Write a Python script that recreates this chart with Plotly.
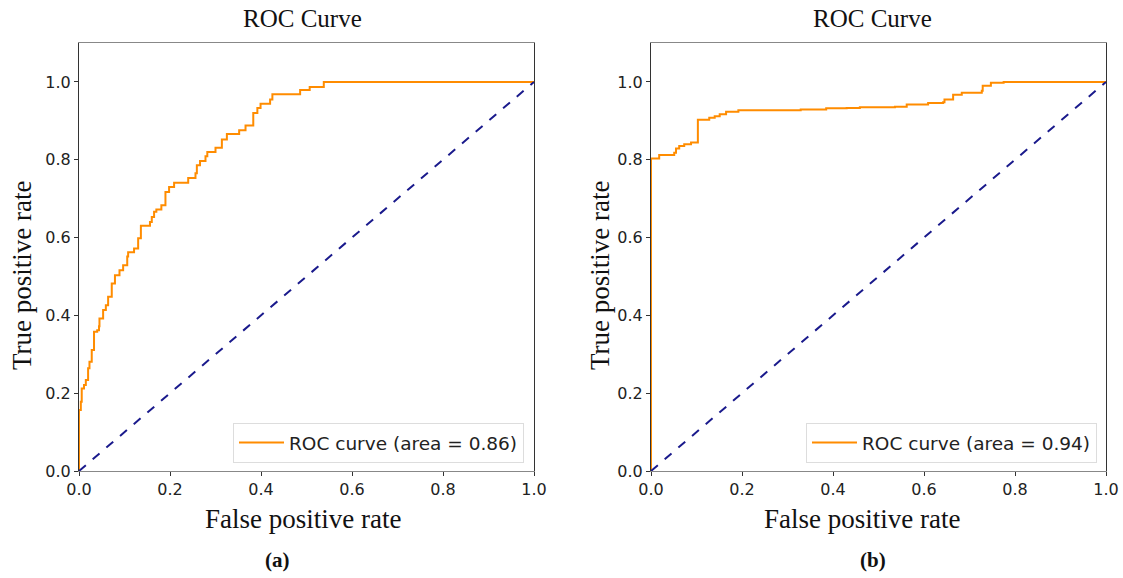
import plotly.graph_objects as go

# ---- data ----
fpr_a = [0.0, 0.0, 0.004, 0.006, 0.011, 0.015, 0.020, 0.023, 0.028, 0.033, 0.040, 0.044, 0.045,
         0.053, 0.059, 0.064, 0.072, 0.079, 0.089, 0.097, 0.106, 0.108, 0.121, 0.130, 0.136,
         0.156, 0.160, 0.165, 0.170, 0.181, 0.190, 0.198, 0.209, 0.240, 0.256, 0.259, 0.266,
         0.278, 0.282, 0.300, 0.314, 0.325, 0.352, 0.366, 0.383, 0.392, 0.399, 0.420, 0.425,
         0.486, 0.507, 0.538, 1.0]
tpr_a = [0.0, 0.157, 0.178, 0.212, 0.221, 0.234, 0.264, 0.281, 0.311, 0.358, 0.362, 0.372, 0.392,
         0.414, 0.426, 0.448, 0.482, 0.503, 0.516, 0.529, 0.551, 0.562, 0.572, 0.598, 0.630,
         0.640, 0.653, 0.666, 0.672, 0.683, 0.717, 0.730, 0.741, 0.753, 0.765, 0.786, 0.797,
         0.809, 0.820, 0.831, 0.852, 0.866, 0.876, 0.888, 0.920, 0.933, 0.944, 0.955, 0.968,
         0.979, 0.987, 1.0, 1.0]

fpr_b = [0.0, 0.0, 0.018, 0.051, 0.055, 0.062, 0.073, 0.088, 0.103, 0.128, 0.140, 0.151, 0.165,
         0.192, 0.329, 0.385, 0.430, 0.459, 0.536, 0.562, 0.609, 0.642, 0.645, 0.664, 0.683,
         0.727, 0.729, 0.747, 0.775, 1.0]
tpr_b = [0.0, 0.803, 0.812, 0.818, 0.829, 0.835, 0.840, 0.844, 0.903, 0.908, 0.912, 0.917, 0.923,
         0.927, 0.929, 0.932, 0.933, 0.935, 0.936, 0.942, 0.946, 0.948, 0.955, 0.967, 0.972,
         0.977, 0.990, 0.998, 1.0, 1.0]

diag = [0.0, 1.0]
label_a = "ROC curve (area = 0.86)"
label_b = "ROC curve (area = 0.94)"
tick_vals = [0.0, 0.2, 0.4, 0.6, 0.8, 1.0]
tick_text = ["0.0", "0.2", "0.4", "0.6", "0.8", "1.0"]

W, H = 1123, 578
L, R, T, B = 79, 1106, 43, 471   # plot-area box in pixels
PW, PH = R - L, B - T
def px(x):
    return (x - L) / PW
def py(y):
    return (B - y) / PH

ORANGE = "#ff8c00"
NAVY = "#1a1a8c"

fig = go.Figure()
fig.add_trace(go.Scatter(x=fpr_a, y=tpr_a, mode="lines", line=dict(color=ORANGE, width=2, shape="hv"),
                         name=label_a, xaxis="x", yaxis="y", legend="legend"))
fig.add_trace(go.Scatter(x=diag, y=diag, mode="lines", line=dict(color=NAVY, width=2, dash="dash"),
                         showlegend=False, xaxis="x", yaxis="y"))
fig.add_trace(go.Scatter(x=fpr_b, y=tpr_b, mode="lines", line=dict(color=ORANGE, width=2, shape="hv"),
                         name=label_b, xaxis="x2", yaxis="y2", legend="legend2"))
fig.add_trace(go.Scatter(x=diag, y=diag, mode="lines", line=dict(color=NAVY, width=2, dash="dash"),
                         showlegend=False, xaxis="x2", yaxis="y2"))

tickfont = dict(family="DejaVu Sans", size=16, color="#222")
def xax(dom, anchor):
    return dict(domain=dom, anchor=anchor, range=[0, 1], tickvals=tick_vals, ticktext=tick_text,
                ticks="outside", ticklen=4, tickcolor="#333", showgrid=False, zeroline=False,
                showline=True, linecolor="#888", linewidth=1, mirror=True, tickfont=tickfont,
                automargin=False)
def yax(anchor):
    return dict(domain=[0, 1], anchor=anchor, range=[0, 1.1], tickvals=tick_vals,
                ticktext=tick_text, ticks="outside", ticklen=4, tickcolor="#333", showgrid=False,
                zeroline=False, showline=True, linecolor="#333", linewidth=1, mirror=True,
                tickfont=tickfont, automargin=False)

legend_common = dict(font=dict(family="DejaVu Sans", size=18.5, color="#222"), bgcolor="rgba(255,255,255,0.8)",
                     bordercolor="#dddddd", borderwidth=1, xanchor="right", yanchor="bottom",
                     xref="paper", yref="paper", itemwidth=45)

fig.update_layout(
    width=W, height=H, margin=dict(l=L, r=W - R, t=T, b=H - B, autoexpand=False),
    paper_bgcolor="white", plot_bgcolor="white",
    xaxis=xax([px(79), px(534)], "y"),
    yaxis=yax("x"),
    xaxis2=xax([px(651), px(1106)], "y2"),
    yaxis2=yax("x2"),
    legend=dict(x=px(524), y=py(463), **legend_common),
    legend2=dict(x=px(1097), y=py(463), **legend_common),
)

serif = "Liberation Serif"
ann = [
    ("ROC Curve", 302, 19, 25, 0, False),
    ("ROC Curve", 872, 19, 25, 0, False),
    ("False positive rate", 303, 519, 27, 0, False),
    ("False positive rate", 862, 519, 27, 0, False),
    ("True positive rate", 22, 276, 27, -90, False),
    ("True positive rate", 600, 276, 27, -90, False),
    ("(a)", 277, 560, 21, 0, True),
    ("(b)", 873, 560, 21, 0, True),
]
for text, x, y, size, ang, bold in ann:
    fig.add_annotation(text=f"<b>{text}</b>" if bold else text, x=px(x), y=py(y), xref="paper", yref="paper",
                       showarrow=False, textangle=ang, xanchor="center", yanchor="middle",
                       font=dict(family=serif, size=size, color="#111"))

fig.write_html("out.html", config={"displayModeBar": False},
               post_script="document.body.style.margin='0';document.body.style.overflow='hidden';")
